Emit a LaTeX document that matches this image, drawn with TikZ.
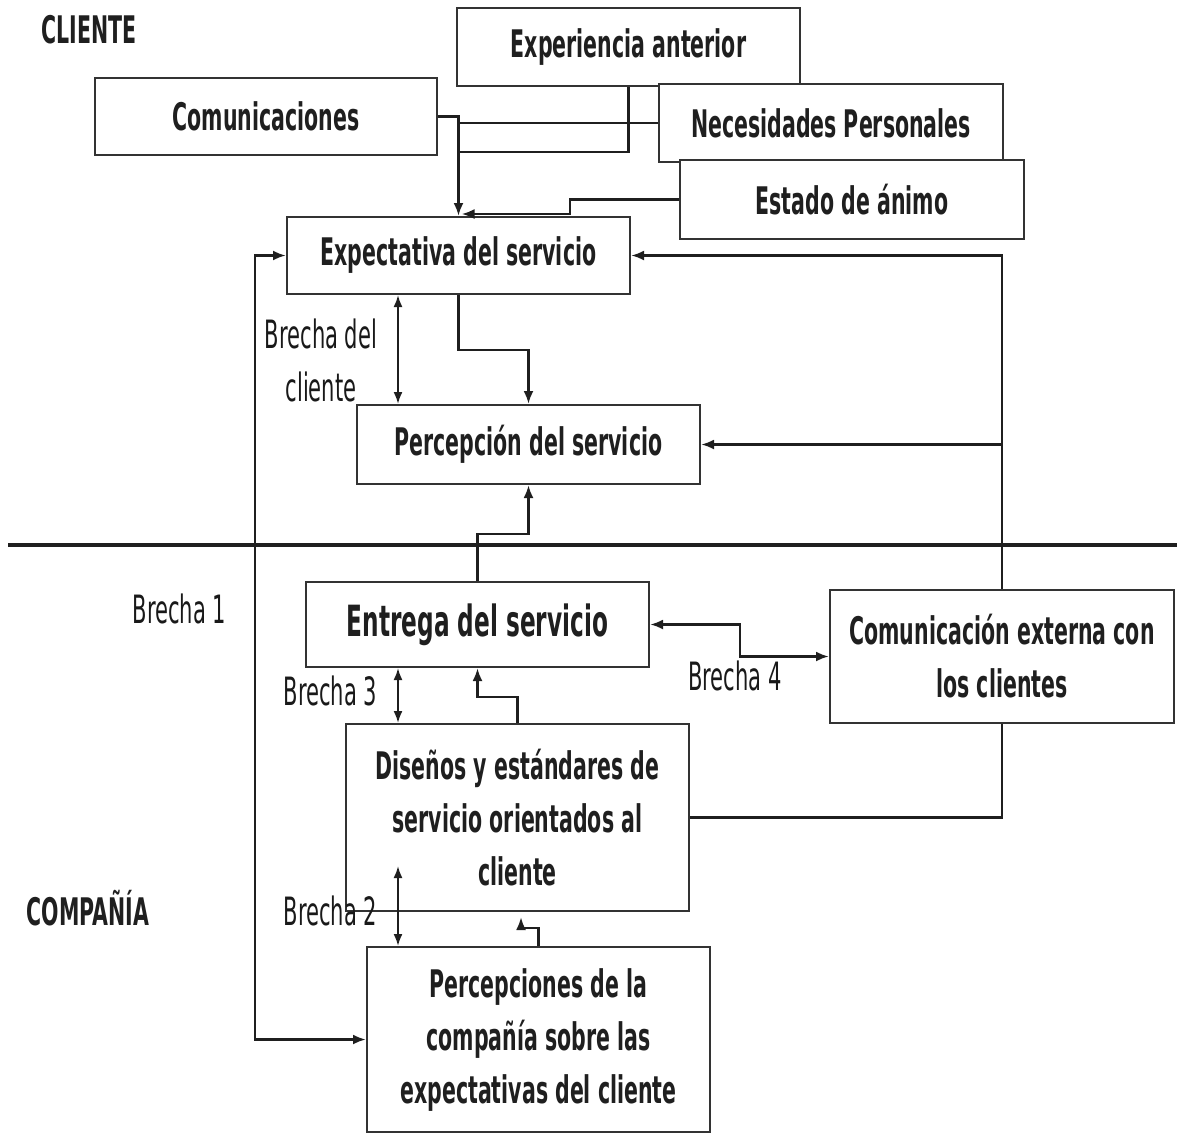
\documentclass[tikz,border=0pt]{standalone}
\usepackage{fontspec}
\setmainfont{DejaVu Sans}[FakeStretch=0.54]
\usetikzlibrary{arrows.meta,calc}

\begin{document}
\begin{tikzpicture}[
  x=1pt, y=-1pt,
  box/.style={draw=black!80, line width=2pt, fill=white, inner sep=0pt,
    align=center, text=black!88, font=\fontsize{38}{53}\selectfont\bfseries},
  bigbox/.style={box, font=\fontsize{43}{53}\selectfont\bfseries},
  lbl/.style={inner sep=0pt, text=black!90, align=center,
    font=\fontsize{39}{53}\selectfont},
  side/.style={inner sep=0pt, text=black!88,
    font=\fontsize{38}{53}\selectfont\bfseries},
  conn/.style={draw=black!88, line width=2.8pt},
  arr/.style={conn, -{Latex[length=13pt,width=10pt]}},
  gap/.style={draw=black!88, line width=2pt,
    {Latex[length=12pt,width=9pt]}-{Latex[length=12pt,width=9pt]}},
  gapwide/.style={conn,
    {Latex[length=13pt,width=10pt]}-{Latex[length=13pt,width=10pt]}}
]
\useasboundingbox (0,0) rectangle (1177,1135);

% --- customer side boxes
\node[box, minimum width=343pt, minimum height=78pt] (exp) at (628.5,47) {Experiencia anterior};
\node[box, minimum width=342pt, minimum height=77pt] (com) at (266,116.5) {Comunicaciones};
\node[box, minimum width=344pt, minimum height=78pt] (nec) at (831,123) {Necesidades Personales};
\node[box, minimum width=344pt, minimum height=79pt] (est) at (852,199.5) {Estado de ánimo};
\node[box, minimum width=343pt, minimum height=77pt] (expe) at (458.5,255.5) {Expectativa del servicio};
\node[box, minimum width=343pt, minimum height=79pt] (perc) at (528.5,444.5) {Percepción del servicio};

% --- company side boxes
\node[bigbox, minimum width=343pt, minimum height=85pt] (entr) at (477.5,624.5) {Entrega del servicio};
\node[box, minimum width=344pt, minimum height=133pt] (cext) at (1002,656.5) {Comunicación externa con\\los clientes};
\node[box, minimum width=343pt, minimum height=187pt] (dis) at (517.5,817.5) {Diseños y estándares de\\servicio orientados al\\cliente};
\node[box, minimum width=343pt, minimum height=185pt] (pcia) at (538.5,1039.5) {Percepciones de la\\compañía sobre las\\expectativas del cliente};

% --- side titles and gap labels
\node[side, anchor=base] (tcli) at (89,43) {CLIENTE};
\node[side, anchor=base] (tcom) at (88,925) {COMPAÑÍA};
\node[lbl] (bcli) at (321,360) {Brecha del\\cliente};
\node[lbl, anchor=base] (b1) at (179.5,623) {Brecha 1};
\node[lbl, anchor=base] (b3) at (330.5,705) {Brecha 3};
\node[lbl, anchor=base] (b2) at (330.5,925) {Brecha 2};
\node[lbl, anchor=base] (b4) at (735,690) {Brecha 4};

% --- helper coordinates for bends
\coordinate (e1) at (570,214);
\coordinate (eA) at (0,152);
\coordinate (e2) at (0,350);
\coordinate (gx) at (398,0);
\coordinate (g1) at (255,0);
\coordinate (g2) at (398,866);
\coordinate (g4) at (740,0);
\coordinate (e3) at (0,534);
\coordinate (e4) at (0,697);
\coordinate (e5) at (521,928);
\coordinate (s0) at (8,545);
\coordinate (s1) at (1177,545);

% --- influences on the expected service
\draw[arr] (com.east) -| (expe.north);
\draw[conn] (nec.west) -- (nec.west -| expe.north);
\draw[conn] (exp.south) |- (expe.north |- eA);
\draw[arr] (est.west) -| (e1) -- ($(e1 -| expe.north)+(3,0)$);

% --- expected vs perceived service
\draw[arr] (expe.south) -- (expe.south |- e2) -| (perc.north);
\draw[gap] (expe.south -| gx) -- (perc.north -| gx);

% --- gap 1 loop on the left
\draw[gapwide] (expe.west) -- (expe.west -| g1) -- (pcia.west -| g1) -- (pcia.west);

% --- external communication feeding back
\draw[arr] (cext.north) |- (expe.east);
\draw[arr] (cext.north |- perc.east) -- (perc.east);
\draw[conn] (dis.east) -| (cext.south);

% --- line between customer and company
\draw[draw=black!88, line width=3.6pt] (s0) -- (s1);

% --- company flow
\draw[arr] (entr.north) -- (entr.north |- e3) -| (perc.south);
\draw[gapwide] (entr.east) -- (entr.east -| g4) |- (cext.west);
\draw[gap] (entr.south -| gx) -- (dis.north -| gx);
\draw[arr] (dis.north) -- (dis.north |- e4) -| (entr.south);
\draw[gap] (g2) -- (pcia.north -| g2);
\draw[arr] (pcia.north) |- (e5) -- ($(e5 |- dis.south)+(0,5)$);
\end{tikzpicture}
\end{document}
